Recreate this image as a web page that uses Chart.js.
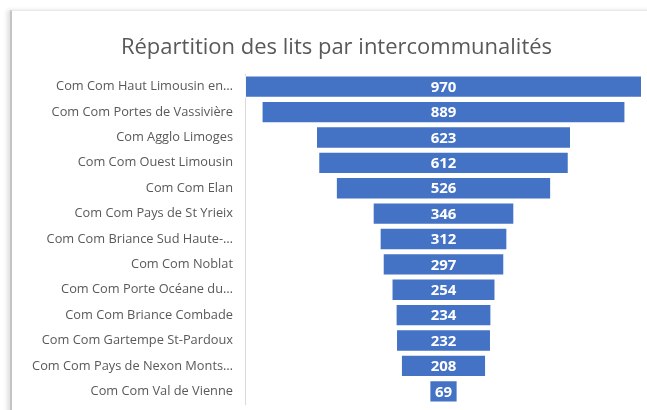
<!DOCTYPE html>
<html>
<head>
<meta charset="utf-8">
<script src="https://cdn.jsdelivr.net/npm/chart.js@4"></script>
<style>
  html, body { margin: 0; padding: 0; background: #fff; }
  body { width: 647px; height: 410px; position: relative; overflow: hidden; }
  #frame { position: absolute; left: 10px; top: 10px; width: 660px; height: 420px;
           border-left: 2px solid #c4c4c4; border-top: 1px solid #e8e8e8;
           box-shadow: -3px 0 4px rgba(0,0,0,0.12); background: #fff; }
  #wrap { position: absolute; left: 0; top: 0; width: 647px; height: 410px; }
</style>
</head>
<body>
<div id="frame"></div>
<div id="wrap"><canvas id="c" width="647" height="410"></canvas></div>
<script>
const titleText = "Répartition des lits par intercommunalités";
const categories = [
  "Com Com Haut Limousin en…",
  "Com Com Portes de Vassivière",
  "Com Agglo Limoges",
  "Com Com Ouest Limousin",
  "Com Com Elan",
  "Com Com Pays de St Yrieix",
  "Com Com Briance Sud Haute-…",
  "Com Com Noblat",
  "Com Com Porte Océane du…",
  "Com Com Briance Combade",
  "Com Com Gartempe St-Pardoux",
  "Com Com Pays de Nexon Monts…",
  "Com Com Val de Vienne"
];
const values = [970, 889, 623, 612, 526, 346, 312, 297, 254, 234, 232, 208, 69];

const maxVal = Math.max(...values);
const funnelData = values.map(v => [-v / 2, v / 2]);

const valueLabels = {
  id: 'valueLabels',
  afterDatasetsDraw(chart) {
    const ctx = chart.ctx;
    const meta = chart.getDatasetMeta(0);
    ctx.save();
    ctx.fillStyle = '#ffffff';
    ctx.font = 'bold 15px "Open Sans"';
    ctx.textAlign = 'center';
    ctx.textBaseline = 'middle';
    meta.data.forEach((el, i) => {
      const cx = (el.x + el.base) / 2;
      ctx.fillText(String(values[i]), cx, el.y + 1);
    });
    ctx.restore();
  }
};

new Chart(document.getElementById('c'), {
  type: 'bar',
  data: {
    labels: categories,
    datasets: [{
      data: funnelData,
      backgroundColor: '#4472C4',
      borderColor: 'rgba(255,255,255,0.75)',
      borderWidth: 1,
      borderSkipped: false,
      categoryPercentage: 1,
      barPercentage: 0.88
    }]
  },
  options: {
    indexAxis: 'y',
    responsive: false,
    animation: false,
    layout: { padding: { left: 31, right: 5, top: 0, bottom: 6 } },
    plugins: {
      legend: { display: false },
      tooltip: { enabled: false },
      title: {
        display: true,
        text: titleText,
        color: '#595959',
        font: { family: '"Open Sans"', size: 22, weight: 'normal' },
        padding: { top: 35, bottom: 12.6 }
      }
    },
    scales: {
      x: {
        display: false,
        min: -maxVal / 2,
        max: maxVal / 2
      },
      y: {
        afterFit(scale) {
          scale.width = 214;
          scale.paddingTop = 0;
          scale.paddingBottom = 0;
        },
        grid: { display: false, drawTicks: false },
        border: { display: true, color: '#d9d9d9', width: 1 },
        ticks: {
          color: '#595959',
          font: { family: '"Open Sans"', size: 12.8 },
          padding: 12
        }
      }
    }
  },
  plugins: [valueLabels]
});
</script>
</body>
</html>
